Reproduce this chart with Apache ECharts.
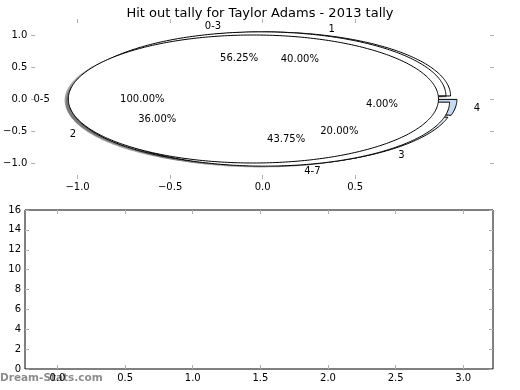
<!DOCTYPE html>
<html><head><meta charset="utf-8">
<script src="https://cdn.jsdelivr.net/npm/echarts@6/dist/echarts.min.js"></script>
<style>html,body{margin:0;padding:0;background:#fff}#c{width:520px;height:390px}</style>
</head><body><div id="c"></div>
<script>
// ---- data ----
const titleText = 'Hit out tally for Taylor Adams - 2013 tally';
const outerCats = ['0-5'];
const outerVals = [16];
const outerColors = ['#ffffff'];
const midCats = ['0-3', '4-7'];
const midVals = [9, 7];
const midColors = ['#ffffff', '#ffffff'];
const innerCats = ['1', '2', '3', '4'];
const innerVals = [10, 9, 5, 1];
const innerColors = ['#ffffff', '#ffffff', '#e6effb', '#c6dbf3'];
const pieTicks = [-1.0, -0.5, 0.0, 0.5, 1.0];
const pieXTicks = [-1.0, -0.5, 0.0, 0.5];
const barXTicks = [0.0, 0.5, 1.0, 1.5, 2.0, 2.5, 3.0];
const barYMax = 16;

// ---- build slices (drawing order: inner, middle, outer) ----
const rings = [
  {cats: innerCats, vals: innerVals, colors: innerColors},
  {cats: midCats, vals: midVals, colors: midColors},
  {cats: outerCats, vals: outerVals, colors: outerColors}
];
const EXPLODE = 0.05, R = 1.0;
const slices = [];
rings.forEach((rg, ri) => {
  const tot = rg.vals.reduce((a, b) => a + b, 0);
  let a0 = 0;
  rg.vals.forEach((v, i) => {
    const span = 360 * v / tot;
    slices.push({ring: ri, name: rg.cats[i], pct: (100 * v / tot).toFixed(2) + '%',
      t1: a0, t2: a0 + span, color: rg.colors[i]});
    a0 += span;
  });
});

function fmt(v) { return v.toFixed(1).replace('-', '\u2212'); }

const FONT = 'DejaVu Sans';
function renderItem(params, api) {
  const s = slices[params.dataIndex];
  const mid = (s.t1 + s.t2) / 2 * Math.PI / 180;
  const cx = EXPLODE * Math.cos(mid), cy = EXPLODE * Math.sin(mid);
  const full = (s.t2 - s.t1) >= 359.999;
  const pts = [], spts = [];
  if (!full) { pts.push(api.coord([cx, cy])); spts.push(api.coord([cx - 0.02, cy - 0.02])); }
  const n = Math.max(8, Math.ceil((s.t2 - s.t1) / 1));
  for (let k = 0; k <= n; k++) {
    const t = (s.t1 + (s.t2 - s.t1) * k / n) * Math.PI / 180;
    const x = cx + R * Math.cos(t), y = cy + R * Math.sin(t);
    pts.push(api.coord([x, y]));
    spts.push(api.coord([x - 0.02, y - 0.02]));
  }
  const lx = cx + 1.1 * R * Math.cos(mid), ly = cy + 1.1 * R * Math.sin(mid);
  const px = cx + 0.6 * R * Math.cos(mid), py = cy + 0.6 * R * Math.sin(mid);
  const lp = api.coord([lx, ly]), pp = api.coord([px, py]);
  return {
    type: 'group',
    children: [
      {type: 'polygon', z2: 1, shape: {points: spts},
        style: {fill: 'rgba(77,77,77,0.5)', stroke: null}},
      {type: 'polygon', z2: 10 + s.ring * 2, shape: {points: pts},
        style: {fill: s.color, stroke: '#000', lineWidth: 1}},
      {type: 'text', z2: 100, x: lp[0], y: lp[1],
        style: {text: s.name, font: '10px "' + FONT + '"', fill: '#000',
          align: lx < 0 ? 'right' : 'left', verticalAlign: 'middle'}},
      {type: 'text', z2: 100, x: pp[0], y: pp[1],
        style: {text: s.pct, font: '10px "' + FONT + '"', fill: '#000',
          align: 'center', verticalAlign: 'middle'}}
    ]
  };
}

const tickStyle = {show: true, inside: true, length: 4, lineStyle: {color: '#b0b0b0', width: 1}};
function axis(extra) {
  return Object.assign({
    type: 'value', axisLine: {show: false, onZero: false}, splitLine: {show: false}
  }, extra);
}
const lbl = {show: true, color: '#000', fontFamily: FONT, fontSize: 10};

const chart = echarts.init(document.getElementById('c'), null, {renderer: 'canvas'});
chart.setOption({
  animation: false,
  backgroundColor: '#fff',
  title: {text: titleText, left: 'center', top: 2,
    textStyle: {fontFamily: FONT, fontSize: 13, fontWeight: 'normal', color: '#000'}},
  graphic: [{type: 'text', left: 0, top: 373,
    style: {text: 'Dream-Stats.com', font: 'bold 10.5px "' + FONT + '"', fill: 'rgba(120,120,120,0.85)'}}],
  grid: [
    {left: 26, top: 19, width: 468, height: 160, show: false},
    {left: 25, top: 210, width: 468, height: 159, show: true, borderColor: '#000', borderWidth: 1, backgroundColor: 'transparent'}
  ],
  xAxis: [
    axis({gridIndex: 0, position: 'bottom', min: -1.25, max: 1.25,
      axisTick: Object.assign({customValues: pieXTicks}, tickStyle),
      axisLabel: Object.assign({customValues: pieXTicks, formatter: fmt, margin: 3}, lbl)}),
    axis({gridIndex: 0, position: 'top', min: -1.25, max: 1.25,
      axisTick: Object.assign({customValues: pieXTicks}, tickStyle),
      axisLabel: {show: false}}),
    axis({gridIndex: 1, position: 'bottom', min: -0.24, max: 3.22,
      axisTick: Object.assign({customValues: barXTicks}, tickStyle),
      axisLabel: Object.assign({customValues: barXTicks, formatter: fmt, margin: 4}, lbl)}),
    axis({gridIndex: 1, position: 'top', min: -0.24, max: 3.22,
      axisTick: Object.assign({customValues: barXTicks}, tickStyle),
      axisLabel: {show: false}})
  ],
  yAxis: [
    axis({gridIndex: 0, position: 'left', min: -1.25, max: 1.25,
      axisTick: Object.assign({customValues: pieTicks}, tickStyle),
      axisLabel: Object.assign({customValues: pieTicks, formatter: fmt, margin: 4}, lbl)}),
    axis({gridIndex: 0, position: 'right', min: -1.25, max: 1.25,
      axisTick: Object.assign({customValues: pieTicks}, tickStyle),
      axisLabel: {show: false}}),
    axis({gridIndex: 1, position: 'left', min: 0, max: barYMax, interval: 2,
      axisTick: Object.assign({}, tickStyle),
      axisLabel: Object.assign({margin: 4}, lbl)}),
    axis({gridIndex: 1, position: 'right', min: 0, max: barYMax, interval: 2,
      axisTick: Object.assign({}, tickStyle),
      axisLabel: {show: false}})
  ],
  series: [
    {type: 'custom', xAxisIndex: 0, yAxisIndex: 0, renderItem: renderItem,
      data: slices.map((s, i) => [0, 0, i]), encode: {x: 0, y: 1}, silent: true},
    {type: 'line', xAxisIndex: 2, yAxisIndex: 2, data: [], silent: true}
  ]
});
</script></body></html>
